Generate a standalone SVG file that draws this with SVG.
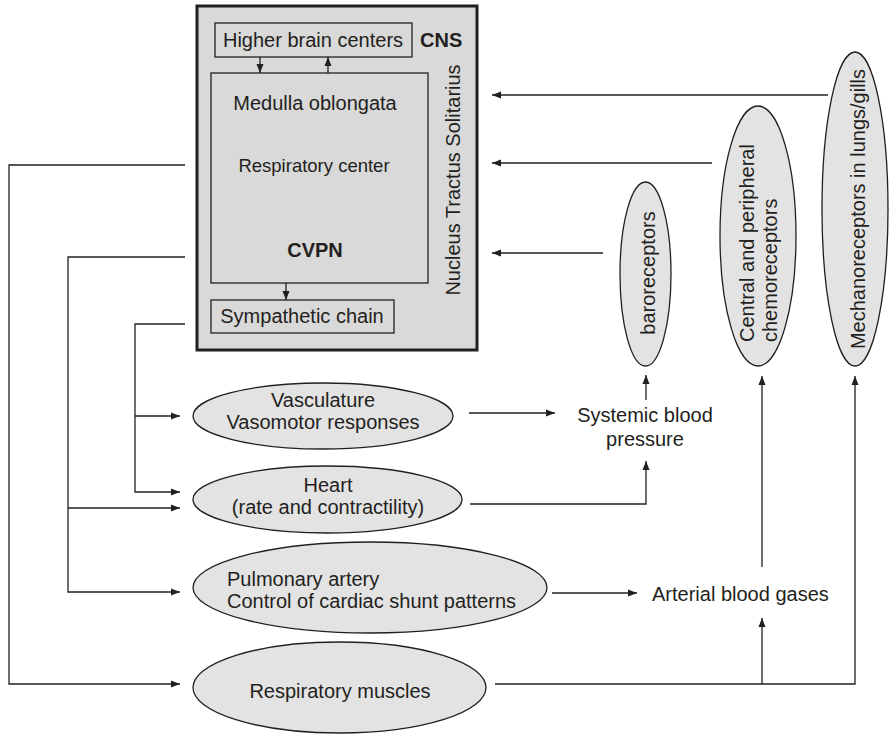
<svg xmlns="http://www.w3.org/2000/svg" width="889" height="734" viewBox="0 0 889 734">
<style>
text{font-family:"Liberation Sans",Arial,sans-serif;font-size:20px;fill:#231f20}
.b{font-weight:bold}
.m{text-anchor:middle}
.box{fill:#d9d9d9;stroke:#231f20;stroke-width:1.3}
.ell{fill:#e3e3e3;stroke:#231f20;stroke-width:1.3}
.c{fill:none;stroke:#231f20;stroke-width:1.3}
</style>
<defs>
<marker id="ah" markerUnits="userSpaceOnUse" markerWidth="10" markerHeight="8" refX="9" refY="4" orient="auto">
<path d="M0,0.5 L9,4 L0,7.5 z" fill="#231f20"/>
</marker>
</defs>
<g id="cns">
<rect x="197" y="6" width="280" height="344" fill="#d9d9d9" stroke="#231f20" stroke-width="3"/>
<text class="b" x="420" y="47">CNS</text>
<text transform="translate(460,180) rotate(-90)" class="m">Nucleus Tractus Solitarius</text>
</g>
<g id="higher">
<rect class="box" x="215" y="23" width="197" height="34"/>
<text class="m" x="313" y="47">Higher brain centers</text>
</g>
<g id="medulla">
<rect class="box" x="211" y="73" width="217" height="210"/>
<text class="m" x="315" y="110">Medulla oblongata</text>
<text class="m" x="314" y="172" style="font-size:18.5px">Respiratory center</text>
<text class="m b" x="315" y="257">CVPN</text>
</g>
<g id="sympathetic">
<rect class="box" x="211" y="300" width="183" height="33"/>
<text class="m" x="302" y="323">Sympathetic chain</text>
</g>
<g id="vasculature">
<ellipse class="ell" cx="323" cy="416" rx="130" ry="33"/>
<text class="m" x="323" y="407">Vasculature</text>
<text class="m" x="323" y="429">Vasomotor responses</text>
</g>
<g id="heart">
<ellipse class="ell" cx="327.5" cy="499.5" rx="134.5" ry="33.5"/>
<text class="m" x="328" y="492">Heart</text>
<text class="m" x="328" y="514">(rate and contractility)</text>
</g>
<g id="pulmonary">
<ellipse class="ell" cx="370" cy="587.5" rx="177" ry="45.5"/>
<text x="227" y="586">Pulmonary artery</text>
<text x="227" y="608">Control of cardiac shunt patterns</text>
</g>
<g id="respiratory">
<ellipse class="ell" cx="339.5" cy="687.5" rx="146.5" ry="45.5"/>
<text class="m" x="340" y="698">Respiratory muscles</text>
</g>
<g id="baroreceptors">
<ellipse class="ell" cx="645.5" cy="274" rx="25.5" ry="92"/>
<text transform="translate(655,273) rotate(-90)" class="m">baroreceptors</text>
</g>
<g id="chemoreceptors">
<ellipse class="ell" cx="758" cy="236" rx="38" ry="130"/>
<text transform="translate(754,342) rotate(-90)">Central and peripheral</text>
<text transform="translate(777,342) rotate(-90)">chemoreceptors</text>
</g>
<g id="mechanoreceptors">
<ellipse class="ell" cx="855" cy="209" rx="33" ry="157"/>
<text transform="translate(865,209) rotate(-90)" class="m">Mechanoreceptors in lungs/gills</text>
</g>
<g id="sbp">
<text class="m" x="645" y="422">Systemic blood</text>
<text class="m" x="645" y="446">pressure</text>
</g>
<g id="abg">
<text x="652" y="601">Arterial blood gases</text>
</g>
<g id="connectors">
<line class="c" x1="260" y1="57" x2="260" y2="73" marker-end="url(#ah)"/>
<line class="c" x1="328" y1="73" x2="328" y2="57" marker-end="url(#ah)"/>
<line class="c" x1="286" y1="283" x2="286" y2="300" marker-end="url(#ah)"/>
<polyline class="c" points="185,165 9,165 9,684 180,684" marker-end="url(#ah)"/>
<polyline class="c" points="185,257 68,257 68,592 180,592" marker-end="url(#ah)"/>
<line class="c" x1="68" y1="508" x2="180" y2="508" marker-end="url(#ah)"/>
<polyline class="c" points="185,324 135,324 135,492 180,492" marker-end="url(#ah)"/>
<line class="c" x1="135" y1="416" x2="180" y2="416" marker-end="url(#ah)"/>
<line class="c" x1="469" y1="413" x2="555" y2="413" marker-end="url(#ah)"/>
<polyline class="c" points="470,504 646,504 646,461" marker-end="url(#ah)"/>
<line class="c" x1="646" y1="400" x2="646" y2="375" marker-end="url(#ah)"/>
<line class="c" x1="552" y1="593" x2="637" y2="593" marker-end="url(#ah)"/>
<line class="c" x1="762" y1="567" x2="762" y2="376" marker-end="url(#ah)"/>
<polyline class="c" points="495,684 855,684 855,376" marker-end="url(#ah)"/>
<line class="c" x1="762" y1="684" x2="762" y2="618" marker-end="url(#ah)"/>
<line class="c" x1="828" y1="95" x2="492" y2="95" marker-end="url(#ah)"/>
<line class="c" x1="712" y1="163" x2="492" y2="163" marker-end="url(#ah)"/>
<line class="c" x1="603" y1="253" x2="492" y2="253" marker-end="url(#ah)"/>
</g>
</svg>
